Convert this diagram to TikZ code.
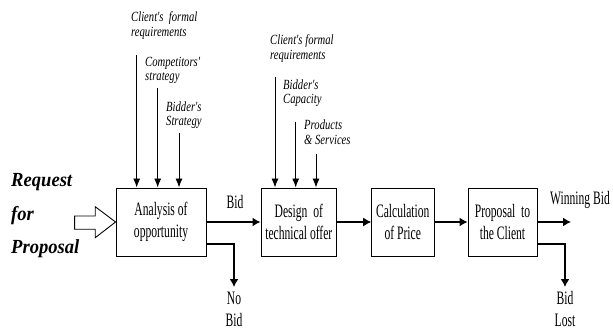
\documentclass[tikz,border=0pt]{standalone}
\usepackage{fontspec}
\setmainfont{Liberation Serif}
\newfontfamily\boxfont[FakeStretch=0.61]{Liberation Serif}
\newfontfamily\lblfont[FakeStretch=0.76]{Liberation Serif}
\newfontfamily\reqfont[FakeStretch=0.93]{Liberation Serif}
\usetikzlibrary{arrows.meta}
\begin{document}
\begin{tikzpicture}[x=1pt,y=-1pt,
  procbox/.style={draw,line width=0.9pt,minimum height=68pt,align=center,inner sep=0pt,
    font=\boxfont\fontsize{19}{22}\selectfont},
  flow/.style={line width=1.4pt,-{Latex[length=8pt,width=9pt]}},
  feed/.style={line width=0.9pt,-{Latex[length=9pt,width=7pt]}},
  lbl/.style={align=left,inner sep=0pt,font=\lblfont\itshape\fontsize{14}{14.5}\selectfont},
  txt/.style={align=center,inner sep=0pt,font=\boxfont\fontsize{19}{22}\selectfont},
  req/.style={align=left,inner sep=0pt,font=\reqfont\bfseries\itshape\fontsize{20}{33.5}\selectfont}]
\useasboundingbox (0,0) rectangle (613,331);
% boxes
\node[procbox,minimum width=90pt] (b1) at (161,222) {Analysis of\\opportunity};
\node[procbox,minimum width=75.7pt] (b2) at (298.8,222) {Design\ \ of\\technical offer};
\node[procbox,minimum width=62.3pt] (b3) at (402.8,222) {Calculation\\of Price};
\node[procbox,minimum width=69pt] (b4) at (502.5,222) {Proposal\ \ to\\the Client};
% request
\node[req,anchor=west] (rq) at (11,216) {Request\\for\\Proposal};
\draw[line width=0.9pt] (b1.west) -- ++(-20.3,-15.3) -- ++(0,9.3) -- ++(-20.7,0) -- ++(0,13.3)
  -- ++(20.7,0) -- ++(0,8.4) -- cycle;
% main flow
\draw[flow] (b1.east) -- (b2.west);
\draw[flow] (b2.east) -- (b3.west);
\draw[flow] (b3.east) -- (b4.west);
\coordinate (wb) at (571,222);
\draw[flow] (b4.east) -- (wb);
\node[txt] (bidl) at (235,202) {Bid};
\node[txt] (wbl) at (580,200) {Winning Bid};
% branches
\coordinate (nb) at (234,287);
\draw[flow] ([yshift=-22pt]b1.east) -| (nb);
\node[txt] (nbl) at (234,309.5) {No\\Bid};
\coordinate (bl) at (565,287);
\draw[flow] ([yshift=-22pt]b4.east) -| (bl);
\node[txt] (bll) at (565,309.5) {Bid\\Lost};
% feeds to b1
\coordinate (f11) at (136.7,55);
\coordinate (f12) at (157.7,88);
\coordinate (f13) at (179,132.7);
\draw[feed] (f11) -- (f11 |- b1.north);
\draw[feed] (f12) -- (f12 |- b1.north);
\draw[feed] (f13) -- (f13 |- b1.north);
\node[lbl,anchor=west] (l11) at (131,25.5) {Client's\ \ formal\\requirements};
\node[lbl,anchor=west] (l12) at (145,70.5) {Competitors'\\strategy};
\node[lbl,anchor=west] (l13) at (166,115) {Bidder's\\Strategy};
% feeds to b2
\coordinate (f21) at (275,76.7);
\coordinate (f22) at (295.7,121.7);
\coordinate (f23) at (316,154);
\draw[feed] (f21) -- (f21 |- b2.north);
\draw[feed] (f22) -- (f22 |- b2.north);
\draw[feed] (f23) -- (f23 |- b2.north);
\node[lbl,anchor=west] (l21) at (270,48.5) {Client's formal\\requirements};
\node[lbl,anchor=west] (l22) at (283,93) {Bidder's\\Capacity};
\node[lbl,anchor=west] (l23) at (304,132) {Products\\\& Services};
\end{tikzpicture}
\end{document}
